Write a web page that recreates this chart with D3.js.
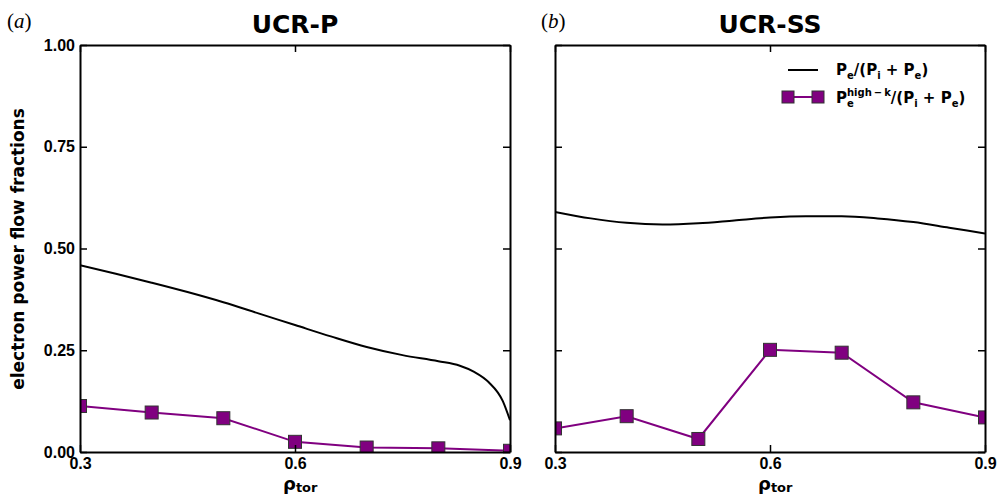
<!DOCTYPE html>
<html>
<head>
<meta charset="utf-8">
<script src="https://cdn.jsdelivr.net/npm/d3@7"></script>
<style>
  body { margin: 0; background: #fff; }
  svg { font-family: "DejaVu Sans", sans-serif; font-weight: bold; }
  .tick text { font-size: 16px; fill: #000; }
</style>
</head>
<body>
<svg id="chart" width="1000" height="503"></svg>
<script>
// electron power flow fraction, smooth profile (rho_tor, value)
const rhoP = [0.30, 0.35, 0.40, 0.45, 0.50, 0.55, 0.60, 0.65, 0.70, 0.75, 0.80, 0.83, 0.85, 0.87, 0.89, 0.90];
const peP  = [0.459, 0.438, 0.416, 0.393, 0.368, 0.340, 0.312, 0.284, 0.258, 0.238, 0.223, 0.212, 0.197, 0.172, 0.125, 0.078];

const rhoSS = [0.30, 0.35, 0.40, 0.45, 0.50, 0.55, 0.60, 0.65, 0.70, 0.75, 0.80, 0.85, 0.90];
const peSS  = [0.590, 0.574, 0.563, 0.559, 0.562, 0.569, 0.576, 0.579, 0.579, 0.574, 0.565, 0.551, 0.537];

// high-k fraction, markers
const rhoK = [0.3, 0.4, 0.5, 0.6, 0.7, 0.8, 0.9];
const hkP  = [0.113, 0.097, 0.083, 0.025, 0.011, 0.009, 0.003];
const hkSS = [0.058, 0.088, 0.032, 0.251, 0.244, 0.122, 0.085];

const xTicks = [0.3, 0.6, 0.9];
const yTicks = [0, 0.25, 0.5, 0.75, 1.0];

const panels = [
  {tag: "a", title: "UCR-P", left: 80, rho: rhoP, pe: peP, hk: hkP, ylabels: true},
  {tag: "b", title: "UCR-SS", left: 555, rho: rhoSS, pe: peSS, hk: hkSS, ylabels: false}
];

const W = 430, topY = 45, H = 407;
const purple = "#800080";

const svg = d3.select("#chart");

panels.forEach((p, pi) => {
  const g = svg.append("g").attr("transform", `translate(${p.left},${topY})`);
  const x = d3.scaleLinear().domain([0.3, 0.9]).range([0, W]);
  const y = d3.scaleLinear().domain([0, 1]).range([H, 0]);

  const clipId = "clip" + pi;
  g.append("clipPath").attr("id", clipId)
    .append("rect").attr("width", W).attr("height", H);

  const plot = g.append("g").attr("clip-path", `url(#${clipId})`);

  const line = d3.line().curve(d3.curveMonotoneX)
    .x(d => x(d[0])).y(d => y(d[1]));
  plot.append("path")
    .datum(p.rho.map((r, i) => [r, p.pe[i]]))
    .attr("d", line)
    .attr("fill", "none").attr("stroke", "#000").attr("stroke-width", 2);

  const kData = rhoK.map((r, i) => [r, p.hk[i]]);
  plot.append("path")
    .datum(kData)
    .attr("d", d3.line().x(d => x(d[0])).y(d => y(d[1])))
    .attr("fill", "none").attr("stroke", purple).attr("stroke-width", 2);
  plot.selectAll("rect.mk").data(kData).enter().append("rect")
    .attr("class", "mk")
    .attr("x", d => x(d[0]) - 6.5).attr("y", d => y(d[1]) - 6.5)
    .attr("width", 13).attr("height", 13)
    .attr("fill", purple).attr("stroke", "#333").attr("stroke-width", 1);

  // axes with inward ticks
  const bottom = d3.axisBottom(x).tickValues(xTicks).tickFormat(d3.format(".1f"))
    .tickSizeInner(-7).tickSizeOuter(0).tickPadding(6);
  const topAx = d3.axisTop(x).tickValues(xTicks).tickFormat("")
    .tickSizeInner(-7).tickSizeOuter(0);
  const leftAx = d3.axisLeft(y).tickValues(yTicks)
    .tickFormat(p.ylabels ? d3.format(".2f") : "")
    .tickSizeInner(-7).tickSizeOuter(0).tickPadding(5);
  const rightAx = d3.axisRight(y).tickValues(yTicks).tickFormat("")
    .tickSizeInner(-7).tickSizeOuter(0);

  g.append("g").attr("transform", `translate(0,${H})`).call(bottom);
  g.append("g").call(topAx);
  g.append("g").call(leftAx);
  g.append("g").attr("transform", `translate(${W},0)`).call(rightAx);

  g.selectAll(".domain").attr("stroke", "#000").attr("stroke-width", 2);
  g.selectAll(".tick line").attr("stroke", "#000").attr("stroke-width", 1.5);
  g.selectAll(".tick text").attr("font-family", null);

  // title
  svg.append("text")
    .attr("x", p.left + W / 2).attr("y", 33)
    .attr("text-anchor", "middle")
    .attr("font-size", 25)
    .text(p.title);

  // panel tag
  svg.append("text")
    .attr("x", p.left - 73 + (pi ? 59 : 0)).attr("y", 28)
    .attr("font-family", "'Liberation Serif', 'DejaVu Serif', serif")
    .attr("font-weight", "normal")
    .attr("font-size", 21)
    .html(`(<tspan font-style="italic">${p.tag}</tspan>)`);

  // x label
  const xl = svg.append("text")
    .attr("x", p.left + W / 2 - 12).attr("y", 490)
    .attr("font-size", 18);
  xl.append("tspan").text("ρ");
  xl.append("tspan").attr("font-size", 13).attr("dy", 2).text("tor");
});

// y label
svg.append("text")
  .attr("transform", "translate(24,249) rotate(-90)")
  .attr("text-anchor", "middle")
  .attr("font-size", 17)
  .text("electron power flow fractions");

// legend (panel b)
const lg = svg.append("g");
lg.append("line").attr("x1", 788).attr("x2", 818).attr("y1", 70).attr("y2", 70)
  .attr("stroke", "#000").attr("stroke-width", 2);
lg.append("line").attr("x1", 788).attr("x2", 818).attr("y1", 97).attr("y2", 97)
  .attr("stroke", purple).attr("stroke-width", 2);
[788, 818].forEach(cx => {
  lg.append("rect").attr("x", cx - 6).attr("y", 91).attr("width", 12).attr("height", 12)
    .attr("fill", purple).attr("stroke", "#333").attr("stroke-width", 1);
});

const lx = 836, fs = 15, fsSmall = 10;
const t1 = lg.append("text").attr("x", lx).attr("y", 75).attr("font-size", fs);
t1.append("tspan").text("P");
t1.append("tspan").attr("font-size", fsSmall).attr("dy", 4).text("e");
t1.append("tspan").attr("dy", -4).text("/(P");
t1.append("tspan").attr("font-size", fsSmall).attr("dy", 4).text("i");
t1.append("tspan").attr("dy", -4).text(" + P");
t1.append("tspan").attr("font-size", fsSmall).attr("dy", 4).text("e");
t1.append("tspan").attr("dy", -4).text(")");

// second entry: P with stacked sup/sub, then rest
const y2 = 103;
const pTxt = lg.append("text").attr("x", lx).attr("y", y2).attr("font-size", fs).text("P");
const wP = pTxt.node().getComputedTextLength();
const sup = lg.append("text").attr("x", lx + wP).attr("y", y2 - 7)
  .attr("font-size", fsSmall).text("high\u2009\u2212\u2009k");
lg.append("text").attr("x", lx + wP).attr("y", y2 + 4)
  .attr("font-size", fsSmall).text("e");
const wSup = sup.node().getComputedTextLength();
const t2 = lg.append("text").attr("x", lx + wP + wSup).attr("y", y2).attr("font-size", fs);
t2.append("tspan").text("/(P");
t2.append("tspan").attr("font-size", fsSmall).attr("dy", 4).text("i");
t2.append("tspan").attr("dy", -4).text(" + P");
t2.append("tspan").attr("font-size", fsSmall).attr("dy", 4).text("e");
t2.append("tspan").attr("dy", -4).text(")");
</script>
</body>
</html>
